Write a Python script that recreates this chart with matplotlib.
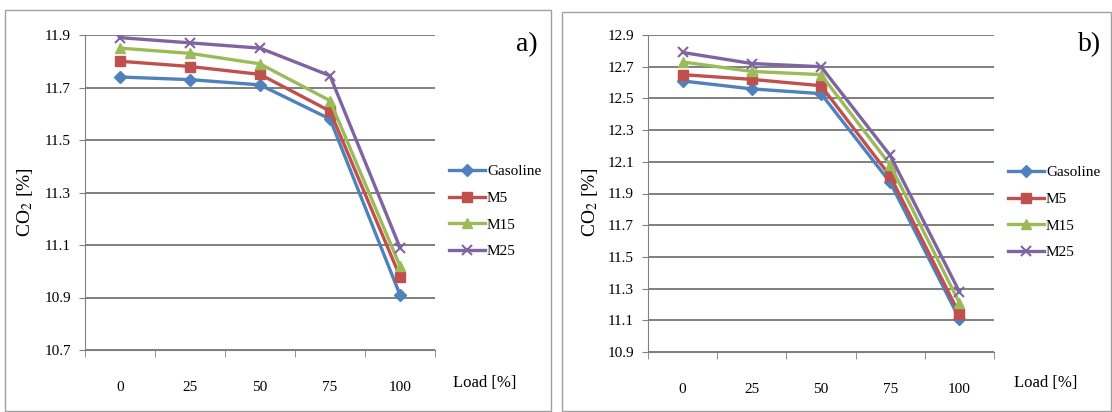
import numpy as np
import matplotlib.pyplot as plt
from matplotlib.patches import Rectangle

plt.rcParams['font.family'] = ['Liberation Serif', 'DejaVu Serif']
plt.rcParams['mathtext.fontset'] = 'stix'

loads = ['0', '25', '50', '75', '100']
series = ['Gasoline', 'M5', 'M15', 'M25']

# panel a)
a_gasoline = [11.74, 11.73, 11.71, 11.58, 10.91]
a_m5 = [11.80, 11.78, 11.75, 11.61, 10.98]
a_m15 = [11.85, 11.83, 11.79, 11.65, 11.02]
a_m25 = [11.89, 11.87, 11.85, 11.745, 11.09]

# panel b)
b_gasoline = [12.61, 12.56, 12.53, 11.97, 11.11]
b_m5 = [12.65, 12.62, 12.58, 12.01, 11.14]
b_m15 = [12.73, 12.67, 12.65, 12.08, 11.21]
b_m25 = [12.79, 12.72, 12.70, 12.14, 11.28]

colors = ['#4F81BD', '#C0504D', '#9BBB59', '#8064A2']
markers = ['D', 's', '^', 'x']
msizes = [6, 6.5, 7, 7]

fig = plt.figure(figsize=(11.12, 4.12), dpi=100)
W, H = 1112, 412

def box(x0, y0, x1, y1):
    # chart-area border, pixel coords from top-left
    fig.patches.append(Rectangle((x0 / W, 1 - y1 / H), (x1 - x0) / W, (y1 - y0) / H,
                                 transform=fig.transFigure, fill=False,
                                 edgecolor='#a0a0a0', linewidth=1.0))

def panel(rect, data, ymin, ymax, tag, tag_xy, ylab_x, load_x):
    ax = fig.add_axes(rect)
    x = np.arange(len(loads))
    for vals, name, c, m, ms in zip(data, series, colors, markers, msizes):
        ax.plot(x, vals, color=c, lw=2.4, marker=m, ms=ms, mew=1.5 if m == 'x' else 1,
                label=name, zorder=3)
    ax.set_xlim(-0.5, len(loads) - 0.5)
    ax.set_ylim(ymin, ymax)
    ax.set_yticks(np.round(np.arange(ymin, ymax + 0.01, 0.2), 1))
    ax.set_yticklabels([f'{v:.1f}' for v in np.arange(ymin, ymax + 0.01, 0.2)])
    ax.set_xticks(x)
    ax.set_xticklabels(loads)
    ax.set_xticks(np.arange(-0.5, len(loads)), minor=True)
    ax.tick_params(axis='x', which='major', length=0, pad=22, labelsize=11)
    ax.tick_params(axis='x', which='minor', length=5, color='#808080')
    ax.tick_params(axis='y', length=4, color='#808080', labelsize=11, pad=6)
    ax.grid(axis='y', color='#7f7f7f', lw=1.4)
    ax.set_axisbelow(True)
    for s in ['top', 'right']:
        ax.spines[s].set_visible(False)
    for s in ['left', 'bottom']:
        ax.spines[s].set_color('#808080')
    ax.legend(loc='center left', bbox_to_anchor=(1.0, 0.44), frameon=False,
              fontsize=11, handlelength=2.4, handletextpad=0.1, labelspacing=0.85)
    fig.text(tag_xy[0] / W, 1 - tag_xy[1] / H, tag, fontsize=20, ha='center', va='center')
    fig.text(ylab_x / W, 1 - 202 / H, 'CO$_2$ [%]', rotation=90, fontsize=14,
             ha='center', va='center')
    fig.text(load_x / W, 1 - 383 / H, 'Load [%]', fontsize=12, ha='center', va='center')
    return ax

box(5, 10, 551, 411)
box(562, 12, 1111, 411)

panel([85 / W, 1 - 350 / H, 350 / W, 315 / H],
      [a_gasoline, a_m5, a_m15, a_m25], 10.7, 11.9, 'a)', (527, 45), 25, 485)
panel([648 / W, 1 - 352 / H, 346 / W, 317 / H],
      [b_gasoline, b_m5, b_m15, b_m25], 10.9, 12.9, 'b)', (1090, 45), 590, 1046)

fig.savefig('out.png', dpi=100)
